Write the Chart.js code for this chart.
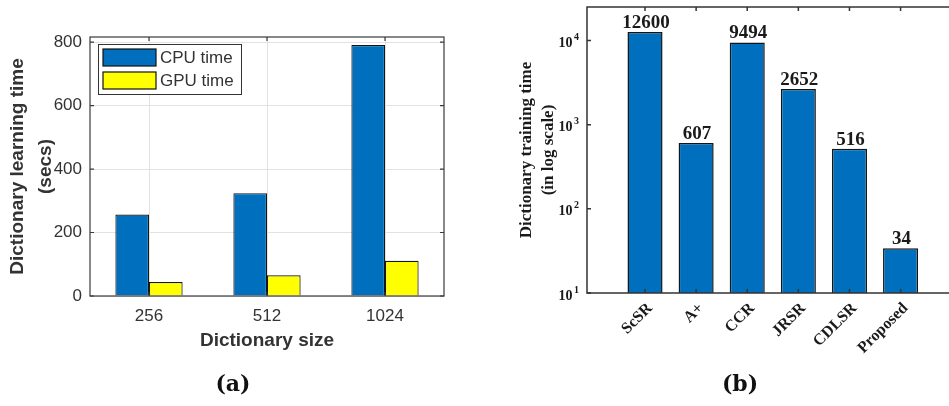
<!DOCTYPE html>
<html>
<head>
<meta charset="utf-8">
<script src="https://cdn.jsdelivr.net/npm/chart.js@4/dist/chart.umd.min.js"></script>
<style>
  html, body { margin: 0; padding: 0; background: #fff; }
  #wrap { position: relative; width: 949px; height: 406px; overflow: hidden; }
  #left { position: absolute; left: 0; top: 0; }
  #right { position: absolute; left: 475px; top: 0; }
  .cap { position: absolute; top: 370px; width: 80px; text-align: center;
         font: bold 22px "DejaVu Serif", "Liberation Serif", serif; color: #111; }
</style>
</head>
<body>
<div id="wrap">
  <canvas id="left" width="475" height="406"></canvas>
  <canvas id="right" width="560" height="406"></canvas>
  <div class="cap" style="left:193px">(a)</div>
  <div class="cap" style="left:700px">(b)</div>
</div>
<script>
// (a) learning time for different dictionary sizes
const sizes = ['256', '512', '1024'];
const cpuTime = [257, 324, 791];
const gpuTime = [44, 65, 111];
const leftTicks = [0, 200, 400, 600, 800];

// (b) training time per method, log scale
const methods = ['ScSR', 'A+', 'CCR', 'JRSR', 'CDLSR', 'Proposed'];
const trainTime = [12600, 607, 9494, 2652, 516, 34];
const decadeTicks = [10, 100, 1000, 10000];

const SANS = '"Liberation Sans", Arial, sans-serif';
const SERIF = '"Liberation Serif", "Times New Roman", serif';
const BLUE = '#0070BE';
const YELLOW = '#FFFF00';

// Box around the plot area with inward tick marks
const framePlugin = {
  id: 'frame',
  afterDraw(chart, args, opts) {
    const { ctx, chartArea: a } = chart;
    const xs = chart.scales.x, ys = chart.scales.y;
    ctx.save();
    ctx.strokeStyle = opts.color;
    ctx.lineWidth = opts.width;
    ctx.strokeRect(a.left, a.top, a.right - a.left, a.bottom - a.top);
    const len = opts.tick;
    ctx.beginPath();
    xs.ticks.forEach((t, i) => {
      const px = xs.getPixelForTick(i);
      ctx.moveTo(px, a.bottom); ctx.lineTo(px, a.bottom - len);
      ctx.moveTo(px, a.top); ctx.lineTo(px, a.top + len);
    });
    ys.ticks.forEach((t, i) => {
      const py = ys.getPixelForTick(i);
      ctx.moveTo(a.left, py); ctx.lineTo(a.left + len, py);
      ctx.moveTo(a.right, py); ctx.lineTo(a.right - len, py);
    });
    ctx.stroke();
    ctx.restore();
  }
};

// Legend box drawn inside the upper-left corner of the plot
const innerLegend = {
  id: 'innerLegend',
  afterDraw(chart) {
    const { ctx, chartArea: a } = chart;
    const x0 = a.left + 8, y0 = a.top + 7, w = 143, h = 50;
    ctx.save();
    ctx.fillStyle = '#fff';
    ctx.fillRect(x0, y0, w, h);
    ctx.strokeStyle = '#333';
    ctx.lineWidth = 1;
    ctx.strokeRect(x0 + 0.5, y0 + 0.5, w, h);
    ctx.font = '17px ' + SANS;
    ctx.textBaseline = 'middle';
    ctx.textAlign = 'left';
    chart.data.datasets.forEach((ds, i) => {
      const sy = y0 + 5 + i * 23;
      ctx.fillStyle = ds.backgroundColor;
      ctx.fillRect(x0 + 5, sy, 53, 17);
      ctx.strokeStyle = '#111';
      ctx.lineWidth = 1.2;
      ctx.strokeRect(x0 + 5, sy, 53, 17);
      ctx.fillStyle = '#333';
      ctx.fillText(ds.label, x0 + 62, sy + 9);
    });
    ctx.restore();
  }
};

new Chart(document.getElementById('left'), {
  type: 'bar',
  data: {
    labels: sizes,
    datasets: [
      { label: 'CPU time', data: cpuTime, backgroundColor: BLUE, borderColor: '#151515', borderWidth: 1.2 },
      { label: 'GPU time', data: gpuTime, backgroundColor: YELLOW, borderColor: '#151515', borderWidth: 1.2 }
    ]
  },
  options: {
    responsive: false,
    animation: false,
    layout: { padding: { left: 0, top: 37, right: 31, bottom: 0 } },
    datasets: { bar: { categoryPercentage: 0.57, barPercentage: 1.0 } },
    plugins: {
      legend: { display: false },
      tooltip: { enabled: false },
      frame: { color: '#3a3a3a', width: 1.2, tick: 4 }
    },
    scales: {
      x: {
        offset: true,
        grid: { offset: false, color: '#e2e2e2', drawTicks: false },
        border: { display: false },
        ticks: { color: '#333', font: { family: SANS, size: 17 }, padding: 10 },
        title: { display: true, text: 'Dictionary size', color: '#333',
                 font: { family: SANS, size: 19, weight: 'bold', lineHeight: 1.2 },
                 padding: { top: 0, bottom: 54 } },
        afterFit(scale) { scale.height = 110; }
      },
      y: {
        min: 0, max: 816,
        grid: { color: '#e2e2e2', drawTicks: false },
        border: { display: false },
        ticks: { stepSize: 200, includeBounds: false, color: '#333',
                 font: { family: SANS, size: 17 }, padding: 8 },
        afterBuildTicks(scale) { scale.ticks = leftTicks.map(v => ({ value: v })); },
        title: { display: true, text: ['Dictionary learning time', '(secs)'], color: '#333',
                 font: { family: SANS, size: 19, weight: 'bold', lineHeight: 1.47 },
                 padding: { top: 3.5, bottom: 0 } },
        afterFit(scale) { scale.width = 90; }
      }
    }
  },
  plugins: [framePlugin, innerLegend]
});

// Decade labels with raised exponents
const powerLabels = {
  id: 'powerLabels',
  afterDraw(chart) {
    const { ctx, chartArea: a } = chart;
    const ys = chart.scales.y;
    ctx.save();
    ctx.fillStyle = '#1a1a1a';
    ctx.textAlign = 'right';
    ctx.textBaseline = 'middle';
    ys.ticks.forEach((t, i) => {
      const py = ys.getPixelForTick(i);
      const exp = String(Math.round(Math.log10(t.value)));
      const xr = a.left - 8;
      ctx.font = 'bold 10px ' + SERIF;
      const ew = ctx.measureText(exp).width;
      ctx.fillText(exp, xr, py - 3);
      ctx.font = 'bold 14px ' + SERIF;
      ctx.fillText('10', xr - ew - 1.5, py + 3);
    });
    ctx.restore();
  }
};

// Value written above each bar
const valueLabels = {
  id: 'valueLabels',
  afterDatasetsDraw(chart) {
    const { ctx } = chart;
    const meta = chart.getDatasetMeta(0);
    const ds = chart.data.datasets[0];
    ctx.save();
    ctx.font = 'bold 19px ' + SERIF;
    ctx.fillStyle = '#1a1a1a';
    ctx.textAlign = 'center';
    ctx.textBaseline = 'alphabetic';
    meta.data.forEach((bar, i) => {
      ctx.fillText(String(ds.data[i].y), bar.x + 1, bar.y - 4);
    });
    ctx.restore();
  }
};

new Chart(document.getElementById('right'), {
  type: 'bar',
  data: {
    datasets: [{
      label: 'Dictionary training time',
      data: methods.map((m, i) => ({ x: i, y: trainTime[i] })),
      backgroundColor: BLUE,
      borderColor: '#151515',
      borderWidth: 1.5
    }]
  },
  options: {
    responsive: false,
    animation: false,
    layout: { padding: { left: 0, top: 7, right: 0, bottom: 0 } },
    datasets: { bar: { categoryPercentage: 1.0, barPercentage: 0.686 } },
    plugins: {
      legend: { display: false },
      tooltip: { enabled: false },
      frame: { color: '#333', width: 1.5, tick: 4 }
    },
    scales: {
      x: {
        type: 'linear',
        min: -1.135, max: 7.63,
        offset: false,
        grid: { display: false, offset: false, drawTicks: false },
        border: { display: false },
        afterBuildTicks(scale) { scale.ticks = methods.map((m, i) => ({ value: i })); },
        ticks: {
          autoSkip: false, minRotation: 45, maxRotation: 45, padding: 6, labelOffset: 5,
          color: '#1a1a1a', font: { family: SERIF, size: 16, weight: 'bold' },
          callback: (v) => methods[v]
        },
        afterFit(scale) { scale.height = 113; }
      },
      y: {
        type: 'logarithmic',
        min: 10, max: 25000,
        grid: { display: false, drawTicks: false },
        border: { display: false },
        afterBuildTicks(scale) { scale.ticks = decadeTicks.map(v => ({ value: v })); },
        ticks: { display: false },
        title: { display: true, text: ['Dictionary training time', '(in log scale)'], color: '#1a1a1a',
                 font: { family: SERIF, size: 17, weight: 'bold', lineHeight: 1.27 },
                 padding: { top: 41, bottom: 0 } },
        afterFit(scale) { scale.width = 112; }
      }
    }
  },
  plugins: [framePlugin, valueLabels, powerLabels]
});
</script>
</body>
</html>
